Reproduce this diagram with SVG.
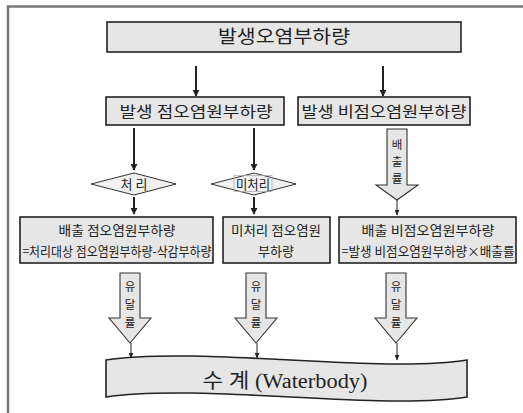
<svg xmlns="http://www.w3.org/2000/svg" width="523" height="413" viewBox="0 0 523 413">
<defs>
<marker id="ah" viewBox="0 0 10 10" refX="9" refY="5" markerWidth="7" markerHeight="9" markerUnits="userSpaceOnUse" orient="auto" preserveAspectRatio="none"><path d="M0,1 L10,5 L0,9 Z" fill="#222"/></marker>
<marker id="ahs" viewBox="0 0 10 10" refX="9" refY="5" markerWidth="6" markerHeight="5" markerUnits="userSpaceOnUse" orient="auto" preserveAspectRatio="none"><path d="M0,0 L10,5 L0,10 Z" fill="#222"/></marker>
</defs>
<style>
.box{fill:#e6e6e6;stroke:#222;stroke-width:1.6}
.dia{fill:#f0f0f0;stroke:#333;stroke-width:1}
.hol{fill:#e6e6e6;stroke:#333;stroke-width:1.1}
.t{font-family:"Noto Sans CJK KR","Noto Sans",sans-serif;fill:#222;text-anchor:middle}
.v{font-size:11.5px}
.ln{stroke:#222;stroke-width:2;fill:none;marker-end:url(#ah)}
.lns{stroke:#222;stroke-width:1;fill:none;marker-end:url(#ahs)}
</style>
<rect width="523" height="413" fill="#fff"/>
<path d="M8,413 V6.5 H523" fill="none" stroke="#7a7a7a" stroke-width="2.5"/>

<g id="top">
<rect class="box" x="107" y="22" width="354" height="30"/>
<text class="t" x="284" y="43" font-size="18" textLength="132" lengthAdjust="spacingAndGlyphs">발생오염부하량</text>
</g>
<g id="point">
<rect class="box" x="106" y="97" width="178" height="28"/>
<text class="t" x="196" y="117" font-size="15" textLength="153" lengthAdjust="spacingAndGlyphs">발생 점오염원부하량</text>
</g>
<g id="nonpoint">
<rect class="box" x="298" y="97" width="172" height="28"/>
<text class="t" x="384" y="117" font-size="15" textLength="165" lengthAdjust="spacingAndGlyphs">발생 비점오염원부하량</text>
</g>
<g id="treat">
<polygon class="dia" points="91,184 134,173 176,184 134,195"/>
<text class="t" x="134" y="189" font-size="13">처 리</text>
</g>
<g id="untreat">
<polygon class="dia" points="211,184 254,173 296,184 254,195"/>
<rect x="234" y="175.5" width="38" height="16" fill="none" stroke="#aaa" stroke-width="0.7"/>
<text class="t" x="253" y="189" font-size="13" textLength="34" lengthAdjust="spacingAndGlyphs">미처리</text>
</g>
<g id="discharge-point">
<rect class="box" x="20" y="217" width="193" height="46"/>
<text class="t" x="117" y="235" font-size="13" textLength="117" lengthAdjust="spacingAndGlyphs">배출 점오염원부하량</text>
<text class="t" x="117" y="256" font-size="13" textLength="189" lengthAdjust="spacingAndGlyphs">=처리대상 점오염원부하량-삭감부하량</text>
</g>
<g id="untreated-point">
<rect class="box" x="223" y="217" width="107" height="46"/>
<text class="t" x="276" y="235" font-size="13" textLength="90" lengthAdjust="spacingAndGlyphs">미처리 점오염원</text>
<text class="t" x="276" y="256" font-size="13">부하량</text>
</g>
<g id="discharge-nonpoint">
<rect class="box" x="339" y="217" width="177" height="46"/>
<text class="t" x="428" y="235" font-size="13" textLength="133" lengthAdjust="spacingAndGlyphs">배출 비점오염원부하량</text>
<text class="t" x="428" y="256" font-size="13" textLength="173" lengthAdjust="spacingAndGlyphs">=발생 비점오염원부하량×배출률</text>
</g>
<g id="waterbody">
<path class="box" d="M106,360 C200,346 380,374 467,360 L467,397 C380,411 200,383 106,397 Z" stroke-width="1.3"/>
<text x="285" y="388" font-size="20" text-anchor="middle" font-family="'Liberation Serif','Noto Sans CJK KR',serif" fill="#222" textLength="165" lengthAdjust="spacingAndGlyphs">수  계 (Waterbody)</text>
</g>

<g id="connectors">
<line class="ln" x1="196" y1="66" x2="196" y2="96"/>
<line class="ln" x1="383" y1="66" x2="383" y2="96"/>
<line class="ln" x1="134" y1="128" x2="134" y2="170"/>
<line class="ln" x1="254" y1="128" x2="254" y2="170"/>
<line class="ln" x1="134" y1="197" x2="134" y2="214"/>
<line class="ln" x1="254" y1="197" x2="254" y2="214"/>
<g id="rate-emission">
<path class="hol" d="M387,129 H407 V185 H418 L397,200 L376,185 H387 Z"/>
<text class="t v" x="397" y="149">배</text>
<text class="t v" x="397" y="166">출</text>
<text class="t v" x="397" y="183">률</text>
<line class="lns" x1="397" y1="200" x2="397" y2="215"/>
</g>
<g id="rate-delivery-1">
<path class="hol" d="M120,273 H140 V318 H151 L130,343 L109,318 H120 Z"/>
<text class="t v" x="130" y="291">유</text>
<text class="t v" x="130" y="309">달</text>
<text class="t v" x="130" y="327">률</text>
<line class="lns" x1="131" y1="343" x2="131" y2="358"/>
</g>
<g id="rate-delivery-2">
<path class="hol" d="M246,273 H266 V318 H277 L256,343 L235,318 H246 Z"/>
<text class="t v" x="256" y="291">유</text>
<text class="t v" x="256" y="309">달</text>
<text class="t v" x="256" y="327">률</text>
<line class="lns" x1="257" y1="343" x2="257" y2="358"/>
</g>
<g id="rate-delivery-3">
<path class="hol" d="M386,273 H406 V318 H417 L396,343 L375,318 H386 Z"/>
<text class="t v" x="396" y="291">유</text>
<text class="t v" x="396" y="309">달</text>
<text class="t v" x="396" y="327">률</text>
<line class="lns" x1="397" y1="343" x2="397" y2="360"/>
</g>
</g>
</svg>
